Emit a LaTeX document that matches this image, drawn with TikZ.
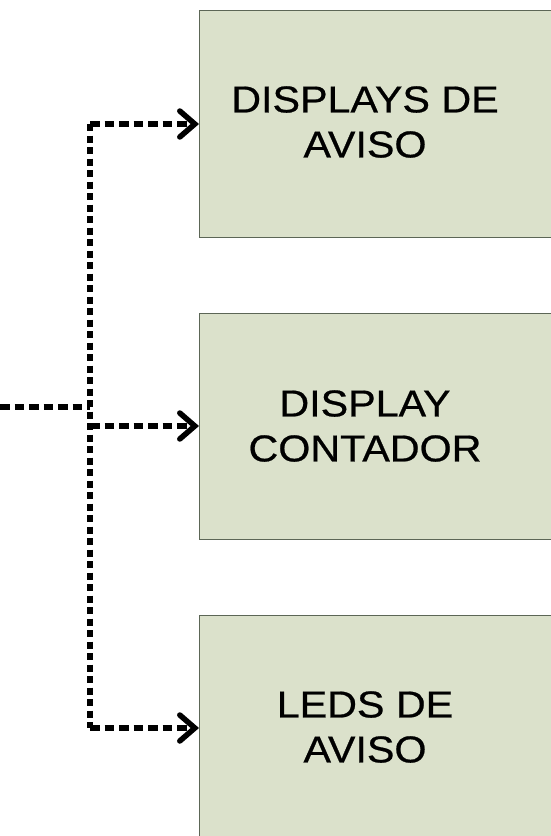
\documentclass[tikz,border=0pt]{standalone}
\usepackage{fontspec}
\newfontfamily\boxfont[FakeStretch=1.1,FakeBold=0.6]{Liberation Sans}
\usetikzlibrary{arrows.meta}
\definecolor{boxfill}{HTML}{DBE1CB}
\definecolor{boxline}{HTML}{5C6656}
\tikzset{
  blockbox/.style={draw=boxline, line width=1pt, fill=boxfill, rectangle, inner sep=0pt, anchor=north west},
  blocktext/.style={font=\boxfont\fontsize{37.5}{45}\selectfont, align=center, text=black, inner sep=0pt},
  hdash/.style={line width=5.5pt, dash pattern=on 9.5pt off 5pt},
  vdash/.style={line width=5.2pt, dash pattern=on 7pt off 4.5pt},
  tip/.style={-{Straight Barb[length=15pt,width=26pt,line width=5.5pt,line cap=round]}}
}
\begin{document}
\begin{tikzpicture}[x=1pt,y=1pt]
\clip (0,0) rectangle (551,-836);
\fill[white] (0,0) rectangle (551,-836);
% boxes
\node[blockbox, minimum width=380pt, minimum height=227pt] (box1) at (199,-10) {};
\node[blockbox, minimum width=380pt, minimum height=226pt] (box2) at (199,-313) {};
\node[blockbox, minimum width=380pt, minimum height=240pt] (box3) at (199,-615) {};
\node[blocktext] (t1) at (365,-122) {DISPLAYS DE\\AVISO};
\node[blocktext] (t2) at (365,-426) {DISPLAY\\CONTADOR};
\node[blocktext] (t3) at (365,-727) {LEDS DE\\AVISO};
% connectors
\coordinate (in) at (0,-407);
\coordinate (j) at (90,-407);
\coordinate (top) at (90,-124);
\coordinate (mid) at (90,-426);
\coordinate (bot) at (90,-728);
\draw[hdash] (in) -- (j);
\draw[vdash] (top) -- (bot);
\draw[hdash, tip] (top) -- (top -| box1.west);
\draw[hdash, tip] (mid) -- (mid -| box2.west);
\draw[hdash, tip] (bot) -- (bot -| box3.west);
\end{tikzpicture}
\end{document}
